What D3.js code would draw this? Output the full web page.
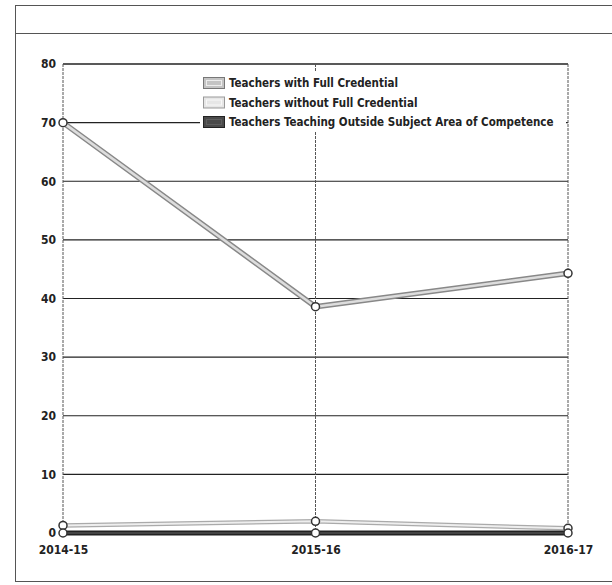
<!DOCTYPE html>
<html>
<head>
<meta charset="utf-8">
<script src="https://cdn.jsdelivr.net/npm/d3@7/dist/d3.min.js"></script>
<style>
  html, body { margin: 0; padding: 0; background: #fff; }
  svg { display: block; }
  text { font-family: "DejaVu Sans Condensed", "DejaVu Sans", sans-serif; fill: #222; }
</style>
</head>
<body>
<div id="chart"></div>
<script>
// School years on the x axis
const years = ["2014-15", "2015-16", "2016-17"];
// Series (percent of teachers)
const fullCredential = [70, 38.6, 44.3];
const withoutCredential = [1.3, 2.0, 0.8];
const outsideSubject = [0, 0, 0];
// Y axis ticks
const yTicks = [0, 10, 20, 30, 40, 50, 60, 70, 80];
const seriesNames = [
  "Teachers with Full Credential",
  "Teachers without Full Credential",
  "Teachers Teaching Outside Subject Area of Competence"
];

const W = 612, H = 585;
const svg = d3.select("#chart").append("svg").attr("width", W).attr("height", H);

// Outer frame with header band
svg.append("rect").attr("x", 15.5).attr("y", 5.5).attr("width", 620).attr("height", 576)
  .attr("fill", "none").attr("stroke", "#555").attr("stroke-width", 1);
svg.append("line").attr("x1", 15).attr("x2", W).attr("y1", 33.5).attr("y2", 33.5)
  .attr("stroke", "#555").attr("stroke-width", 1);

const plot = { left: 63, right: 568, top: 64, bottom: 533 };

const x = d3.scalePoint().domain(years).range([plot.left, plot.right]);
const y = d3.scaleLinear().domain([0, 80]).range([plot.bottom, plot.top]);

// Horizontal gridlines
svg.append("g").selectAll("line").data(yTicks).join("line")
  .attr("x1", plot.left).attr("x2", plot.right)
  .attr("y1", d => y(d)).attr("y2", d => y(d))
  .attr("stroke", "#222").attr("stroke-width", d => d === 80 ? 1.6 : 1.2);

// Vertical gridlines at each year (includes the plot's side edges)
svg.append("g").selectAll("line").data(years).join("line")
  .attr("x1", d => x(d)).attr("x2", d => x(d))
  .attr("y1", plot.top).attr("y2", plot.bottom)
  .attr("stroke", "#555").attr("stroke-width", 1).attr("stroke-dasharray", "3,1");

// Y axis labels
const yAxis = d3.axisLeft(y).tickValues(yTicks).tickSize(0).tickPadding(7);
const gy = svg.append("g").attr("transform", `translate(${plot.left},0)`).call(yAxis);
gy.select(".domain").remove();
gy.selectAll("text").attr("font-size", 12).attr("font-weight", "bold")
  .style("font-family", '"DejaVu Sans Condensed", sans-serif').attr("fill", "#222");

// X axis labels
const xAxis = d3.axisBottom(x).tickSize(0).tickPadding(12);
const gx = svg.append("g").attr("transform", `translate(0,${plot.bottom})`).call(xAxis);
gx.select(".domain").remove();
gx.selectAll("text").attr("font-size", 12).attr("font-weight", "bold")
  .style("font-family", '"DejaVu Sans Condensed", sans-serif').attr("fill", "#222");

// Legend (white backing hides the gridlines behind it)
const legend = svg.append("g");
legend.append("rect").attr("x", 200).attr("y", 71).attr("width", 366).attr("height", 60).attr("fill", "#fff");
const swatches = [
  { fill: "#c4c4c4", stroke: "#777" },
  { fill: "#e6e6e6", stroke: "#999" },
  { fill: "#4a4a4a", stroke: "#222" }
];
seriesNames.forEach((name, i) => {
  const cy = 83 + i * 19.5;
  legend.append("rect").attr("x", 203.5).attr("y", cy - 5.5).attr("width", 21).attr("height", 11)
    .attr("fill", swatches[i].fill).attr("stroke", swatches[i].stroke).attr("stroke-width", 1);
  legend.append("rect").attr("x", 206.5).attr("y", cy - 2.5).attr("width", 15).attr("height", 5)
    .attr("fill", "none").attr("stroke", i === 2 ? "#666" : "#fff").attr("stroke-width", 1).attr("opacity", 0.7);
  legend.append("text").attr("x", 229).attr("y", cy).attr("dy", "0.35em")
    .attr("font-size", 11.5).attr("font-weight", "bold").text(name);
});

const line = d3.line().x((d, i) => x(years[i])).y(d => y(d));

function drawSeries(values, outer, inner, ow, iw) {
  const g = svg.append("g");
  g.append("path").datum(values).attr("d", line).attr("fill", "none")
    .attr("stroke", outer).attr("stroke-width", ow).attr("stroke-linejoin", "round");
  if (inner) {
    g.append("path").datum(values).attr("d", line).attr("fill", "none")
      .attr("stroke", inner).attr("stroke-width", iw).attr("stroke-linejoin", "round");
  }
  g.selectAll("circle").data(values).join("circle")
    .attr("cx", (d, i) => x(years[i])).attr("cy", d => y(d)).attr("r", 4)
    .attr("fill", "#fff").attr("stroke", "#333").attr("stroke-width", 1.5);
}

drawSeries(withoutCredential, "#aaa", "#eee", 4.5, 2);
drawSeries(outsideSubject, "#222", "#444", 5, 2);
drawSeries(fullCredential, "#888", "#ddd", 5.5, 2.5);
</script>
</body>
</html>
